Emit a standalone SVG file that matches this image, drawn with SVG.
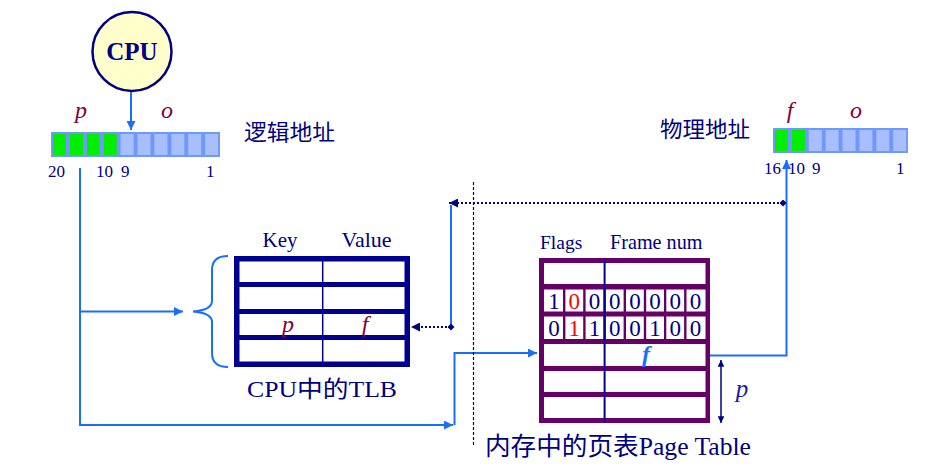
<svg xmlns="http://www.w3.org/2000/svg" width="940" height="471" viewBox="0 0 940 471">
<style>
.t{font-family:"Liberation Serif","Noto Sans CJK SC",serif;fill:#000080}
.cjk{font-family:"Liberation Serif","Noto Sans CJK SC",serif;fill:#000080;font-size:22px}
.var{font-family:"Liberation Serif",serif;font-style:italic;fill:#800040;font-size:24px}
.num{font-family:"Liberation Serif",serif;fill:#000080;font-size:17px}
.dig{font-family:"Liberation Serif",serif;fill:#000080;font-size:23px;text-anchor:middle}
.blue{stroke:#1a6eff;stroke-width:2;fill:none}
.dot{stroke:#000080;stroke-width:2;fill:none;stroke-dasharray:2 2}
.w{fill:#ffffff}
.g{fill:#00ee00}
.lb{fill:#a7beff}
</style>
<defs>
<marker id="ab" viewBox="0 0 10 10" refX="10" refY="5" markerWidth="4.5" markerHeight="4.5" orient="auto-start-reverse" markerUnits="strokeWidth"><path d="M0,0 L10,5 L0,10 z" fill="#1a6eff"/></marker>
<marker id="an" viewBox="0 0 10 10" refX="10" refY="5" markerWidth="4.5" markerHeight="4.5" orient="auto-start-reverse" markerUnits="strokeWidth"><path d="M0,0 L10,5 L0,10 z" fill="#000080"/></marker>
<marker id="dm" viewBox="0 0 10 10" refX="5" refY="5" markerWidth="3.5" markerHeight="3.5" orient="auto" markerUnits="strokeWidth"><path d="M5,0 L10,5 L5,10 L0,5 z" fill="#000080"/></marker>
</defs>
<rect width="940" height="471" fill="#ffffff"/>

<g id="cpu">
<circle cx="132" cy="51.5" r="39.5" fill="#ffffcc" stroke="#000080" stroke-width="2.5"/>
<text x="132" y="60" class="t" font-size="25" font-weight="bold" text-anchor="middle">CPU</text>
</g>

<g id="logical-address">
<text x="81" y="118" class="var" text-anchor="middle">p</text>
<text x="167" y="118" class="var" text-anchor="middle">o</text>
<rect x="51" y="132" width="169" height="25" fill="#6f98ff"/>
<rect x="53" y="134" width="13" height="21" class="g"/>
<rect x="69.9" y="134" width="13" height="21" class="g"/>
<rect x="86.8" y="134" width="13" height="21" class="g"/>
<rect x="103.7" y="134" width="13" height="21" class="g"/>
<rect x="120.6" y="134" width="13" height="21" class="lb"/>
<rect x="137.5" y="134" width="13" height="21" class="lb"/>
<rect x="154.4" y="134" width="13" height="21" class="lb"/>
<rect x="171.3" y="134" width="13" height="21" class="lb"/>
<rect x="188.2" y="134" width="13" height="21" class="lb"/>
<rect x="205.1" y="134" width="13" height="21" class="lb"/>
<text x="48" y="177" class="num">20</text>
<text x="96" y="177" class="num">10</text>
<text x="121" y="177" class="num">9</text>
<text x="206" y="177" class="num">1</text>
<text x="244" y="140" class="cjk" textLength="91" lengthAdjust="spacingAndGlyphs">逻辑地址</text>
</g>

<g id="physical-address">
<text x="790" y="118" class="var" text-anchor="middle">f</text>
<text x="856" y="118" class="var" text-anchor="middle">o</text>
<rect x="773" y="128" width="135" height="25" fill="#6f98ff"/>
<rect x="775" y="130" width="13" height="21" class="g"/>
<rect x="791.9" y="130" width="13" height="21" class="g"/>
<rect x="808.8" y="130" width="13" height="21" class="lb"/>
<rect x="825.6" y="130" width="13" height="21" class="lb"/>
<rect x="842.5" y="130" width="13" height="21" class="lb"/>
<rect x="859.4" y="130" width="13" height="21" class="lb"/>
<rect x="876.3" y="130" width="13" height="21" class="lb"/>
<rect x="893.1" y="130" width="13" height="21" class="lb"/>
<text x="764" y="174" class="num">16</text>
<text x="788" y="174" class="num">10</text>
<text x="812" y="174" class="num">9</text>
<text x="896" y="174" class="num">1</text>
<text x="660" y="137" class="cjk" textLength="90" lengthAdjust="spacingAndGlyphs">物理地址</text>
</g>

<g id="tlb">
<text x="280" y="247" class="t" font-size="21" text-anchor="middle">Key</text>
<text x="366.5" y="247" class="t" font-size="22" text-anchor="middle">Value</text>
<rect x="234" y="256" width="176" height="111" fill="#000090"/>
<rect x="239.5" y="261.5" width="165" height="20.5" class="w"/>
<rect x="239.5" y="287" width="165" height="22" class="w"/>
<rect x="239.5" y="314" width="165" height="21" class="w"/>
<rect x="239.5" y="340" width="165" height="21.5" class="w"/>
<line x1="322.7" y1="258" x2="322.7" y2="365" stroke="#000090" stroke-width="1.5"/>
<text x="282" y="332" class="var">p</text>
<text x="365" y="332" class="var" text-anchor="middle">f</text>
<text x="247" y="397" class="t" font-size="23" textLength="150" lengthAdjust="spacingAndGlyphs">CPU中的TLB</text>
</g>

<g id="page-table">
<text x="540" y="249" class="t" font-size="19.5">Flags</text>
<text x="610" y="249" class="t" font-size="20.2">Frame num</text>
<rect x="539" y="258" width="171" height="165" fill="#660066"/>
<rect x="544" y="263" width="161.5" height="21" class="w"/>
<g class="w">
<rect x="544" y="289.5" width="19" height="22"/>
<rect x="565.4" y="289.5" width="17.8" height="22"/>
<rect x="585.6" y="289.5" width="17.8" height="22"/>
<rect x="605.8" y="289.5" width="17.8" height="22"/>
<rect x="626" y="289.5" width="17.8" height="22"/>
<rect x="646.2" y="289.5" width="17.8" height="22"/>
<rect x="666.3" y="289.5" width="17.8" height="22"/>
<rect x="686.5" y="289.5" width="19" height="22"/>
<rect x="544" y="316.5" width="19" height="22.5"/>
<rect x="565.4" y="316.5" width="17.8" height="22.5"/>
<rect x="585.6" y="316.5" width="17.8" height="22.5"/>
<rect x="605.8" y="316.5" width="17.8" height="22.5"/>
<rect x="626" y="316.5" width="17.8" height="22.5"/>
<rect x="646.2" y="316.5" width="17.8" height="22.5"/>
<rect x="666.3" y="316.5" width="17.8" height="22.5"/>
<rect x="686.5" y="316.5" width="19" height="22.5"/>
</g>
<rect x="544" y="344" width="161.5" height="22" class="w"/>
<rect x="544" y="371" width="161.5" height="21" class="w"/>
<rect x="544" y="397" width="161.5" height="21" class="w"/>
<line x1="604.6" y1="259" x2="604.6" y2="422" stroke="#000090" stroke-width="2"/>
<text y="309" class="dig"><tspan x="554">1</tspan><tspan x="574.3" fill="#ff0000">0</tspan><tspan x="594.5">0</tspan><tspan x="614.7">0</tspan><tspan x="634.9">0</tspan><tspan x="655.1">0</tspan><tspan x="675.2">0</tspan><tspan x="695.5">0</tspan></text>
<text y="336" class="dig"><tspan x="554">0</tspan><tspan x="574.3" fill="#ff0000">1</tspan><tspan x="594.5">1</tspan><tspan x="614.7">0</tspan><tspan x="634.9">0</tspan><tspan x="655.1">1</tspan><tspan x="675.2">0</tspan><tspan x="695.5">0</tspan></text>
<text x="646" y="362" font-family="Liberation Serif, serif" font-style="italic" font-weight="bold" font-size="24" fill="#1a6eff" text-anchor="middle">f</text>
<text x="742" y="397" font-family="Liberation Serif, serif" font-style="italic" font-size="25" fill="#1a1aa0" text-anchor="middle">p</text>
<text x="485" y="455" class="t" font-size="25" textLength="266" lengthAdjust="spacingAndGlyphs">内存中的页表Page Table</text>
</g>

<g id="connectors">
<line x1="131" y1="92" x2="131" y2="130" class="blue" marker-end="url(#ab)"/>
<path d="M80,168 V425 H453" class="blue" marker-end="url(#ab)"/>
<line x1="80" y1="311.5" x2="183" y2="311.5" class="blue" marker-end="url(#ab)"/>
<path d="M228,256 Q212,256 212,270 L212,301 Q212,310 193,311.5 Q212,313 212,322 L212,353 Q212,367 228,367" class="blue"/>
<path d="M454.5,425 V353 H537" class="blue" marker-end="url(#ab)"/>
<path d="M710,355.5 H786.5 V160" class="blue" marker-end="url(#ab)"/>
<line x1="783" y1="203" x2="449" y2="203" class="dot" marker-start="url(#dm)" marker-end="url(#an)"/>
<line x1="451" y1="205" x2="451" y2="327" class="blue"/>
<line x1="451" y1="327" x2="411" y2="327" class="dot" marker-start="url(#dm)" marker-end="url(#an)"/>
<line x1="473.5" y1="182" x2="473.5" y2="447" stroke="#000080" stroke-width="1.2" stroke-dasharray="3 2"/>
<line x1="721" y1="360" x2="721" y2="423" stroke="#000080" stroke-width="1.5" marker-start="url(#an)" marker-end="url(#an)"/>
</g>
</svg>
